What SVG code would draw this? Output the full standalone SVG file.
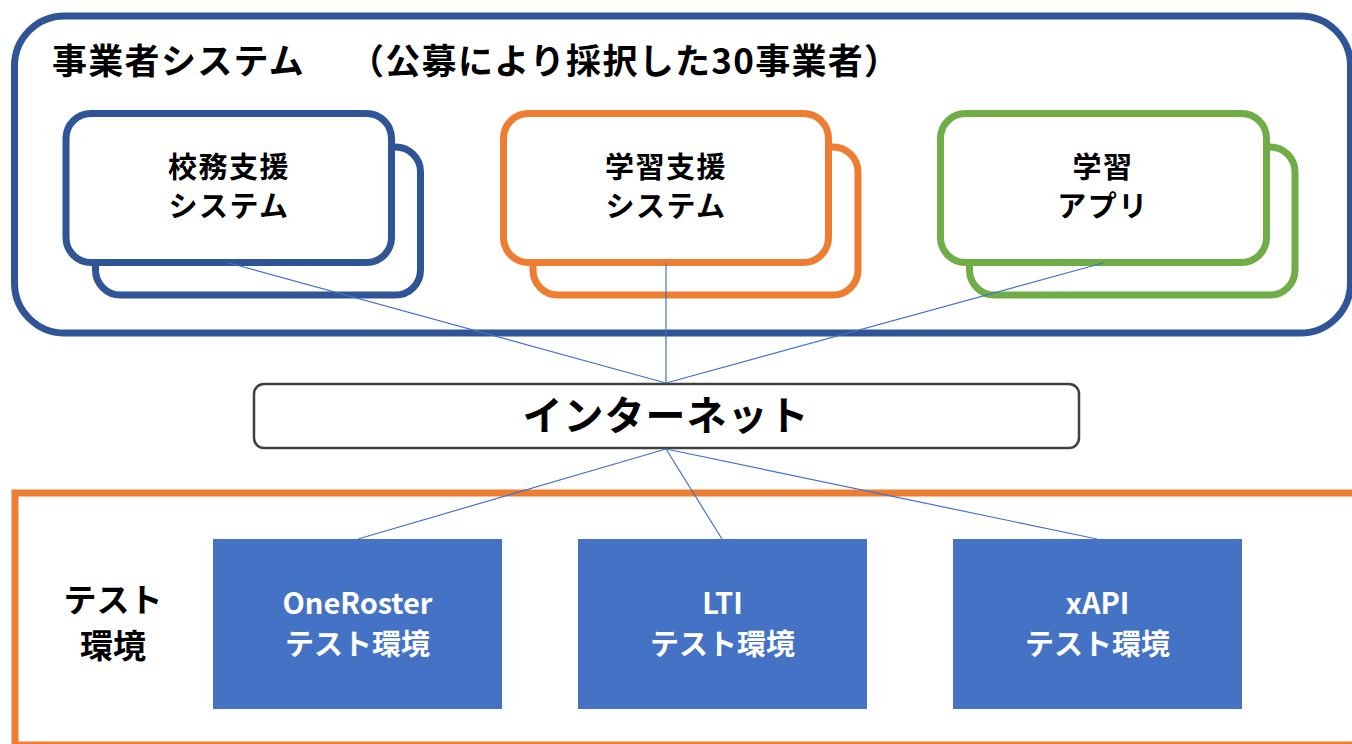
<svg xmlns="http://www.w3.org/2000/svg" width="1352" height="744" viewBox="0 0 1352 744">
<style>
text{font-family:"Noto Sans CJK JP","Noto Sans",sans-serif;font-weight:bold;fill:#000}
.blue{fill:#fff;stroke:#2F5597;stroke-width:7}
.orange{fill:#fff;stroke:#ED7D31;stroke-width:7}
.green{fill:#fff;stroke:#70AD47;stroke-width:7}
.sys{font-size:29px;text-anchor:middle;letter-spacing:1.5px}
.env{fill:#4472C4}
.envt{fill:#fff;font-size:29px;text-anchor:middle}
.conn{stroke:#4472C4;stroke-width:1.2;fill:none}
.title{font-size:35px;letter-spacing:1.3px}
</style>
<rect width="1352" height="744" fill="#fff"/>
<g id="vendor-area">
<rect x="14.5" y="16" width="1336" height="317" rx="50" ry="50" fill="#fff" stroke="#2F5597" stroke-width="7"/>
<text class="title" x="52" y="74">事業者システム</text>
<text class="title" x="349" y="74">（公募により採択した30事業者）</text>
</g>
<g id="school-system">
<rect class="blue" x="95.5" y="147" width="325" height="148" rx="25"/>
<rect class="blue" x="66" y="113.5" width="325.5" height="149" rx="25"/>
<text class="sys" x="229" y="178">校務支援</text>
<text class="sys" x="229" y="217">システム</text>
</g>
<g id="learning-system">
<rect class="orange" x="533" y="147" width="325" height="148" rx="25"/>
<rect class="orange" x="503.5" y="113.5" width="325" height="149" rx="25"/>
<text class="sys" x="666" y="178">学習支援</text>
<text class="sys" x="666" y="217">システム</text>
</g>
<g id="learning-app">
<rect class="green" x="969.5" y="147" width="325.5" height="148" rx="25"/>
<rect class="green" x="940.5" y="113.5" width="326" height="149" rx="25"/>
<text class="sys" x="1103" y="178">学習</text>
<text class="sys" x="1103" y="217">アプリ</text>
</g>
<g id="test-area">
<rect x="15" y="493" width="1345" height="252" fill="#fff" stroke="#ED7D31" stroke-width="7"/>
<text x="113" y="612" font-size="33" text-anchor="middle">テスト</text>
<text x="113" y="658" font-size="33" text-anchor="middle">環境</text>
</g>
<g id="internet">
<rect x="254" y="384" width="825" height="64" rx="10" fill="#fff" stroke="#404040" stroke-width="2.5"/>
<text x="666" y="430" font-size="40" text-anchor="middle" letter-spacing="1">インターネット</text>
</g>
<g id="oneroster">
<rect class="env" x="213" y="539" width="289" height="170"/>
<text class="envt" x="357.5" y="614">OneRoster</text>
<text class="envt" x="357.5" y="655">テスト環境</text>
</g>
<g id="lti">
<rect class="env" x="578" y="539" width="289" height="170"/>
<text class="envt" x="722.5" y="614">LTI</text>
<text class="envt" x="722.5" y="655">テスト環境</text>
</g>
<g id="xapi">
<rect class="env" x="953" y="539" width="289" height="170"/>
<text class="envt" x="1097.5" y="614">xAPI</text>
<text class="envt" x="1097.5" y="655">テスト環境</text>
</g>
<g id="connectors">
<line class="conn" x1="666" y1="383" x2="229" y2="263"/>
<line class="conn" x1="666" y1="383" x2="666" y2="263"/>
<line class="conn" x1="666" y1="383" x2="1103" y2="263"/>
<line class="conn" x1="666" y1="449" x2="358" y2="539"/>
<line class="conn" x1="666" y1="449" x2="722" y2="539"/>
<line class="conn" x1="666" y1="449" x2="1097" y2="539"/>
</g>
</svg>
